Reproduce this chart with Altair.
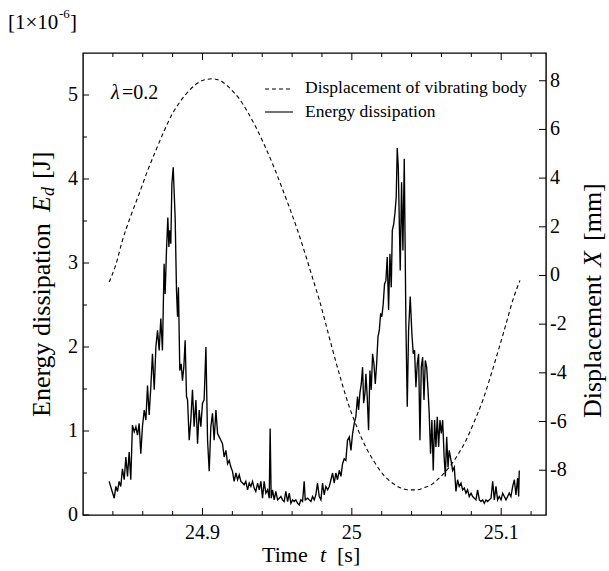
import altair as alt
import pandas as pd

# ---------------- data ----------------
# Energy dissipation E_d  [x1e-6 J] versus time t [s]
ED_T = [24.8375, 24.8409, 24.8420, 24.8431, 24.8442, 24.8453, 24.8464, 24.8476, 24.8487, 24.8498,
        24.8509, 24.8520, 24.8531, 24.8543, 24.8554, 24.8565, 24.8576, 24.8587, 24.8598, 24.8610,
        24.8621, 24.8632, 24.8643, 24.8654, 24.8665, 24.8677, 24.8688, 24.8699, 24.8710, 24.8721,
        24.8732, 24.8743, 24.8750, 24.8759, 24.8768, 24.8775, 24.8781, 24.8788, 24.8795, 24.8804,
        24.8810, 24.8817, 24.8826, 24.8833, 24.8839, 24.8848, 24.8857, 24.8866, 24.8875, 24.8884,
        24.8893, 24.8900, 24.8911, 24.8922, 24.8933, 24.8944, 24.8956, 24.8967, 24.8978, 24.8989,
        24.9000, 24.9011, 24.9023, 24.9034, 24.9045, 24.9056, 24.9067, 24.9078, 24.9090, 24.9101,
        24.9112, 24.9123, 24.9134, 24.9145, 24.9157, 24.9168, 24.9179, 24.9190, 24.9201, 24.9212,
        24.9224, 24.9235, 24.9246, 24.9257, 24.9268, 24.9279, 24.9290, 24.9302, 24.9313, 24.9324,
        24.9335, 24.9346, 24.9357, 24.9369, 24.9380, 24.9391, 24.9402, 24.9413, 24.9424, 24.9436,
        24.9447, 24.9453, 24.9460, 24.9469, 24.9480, 24.9491, 24.9503, 24.9514, 24.9525, 24.9536,
        24.9547, 24.9558, 24.9570, 24.9581, 24.9592, 24.9603, 24.9614, 24.9625, 24.9637, 24.9648,
        24.9659, 24.9670, 24.9681, 24.9688, 24.9704, 24.9715, 24.9726, 24.9737, 24.9748, 24.9759,
        24.9770, 24.9782, 24.9793, 24.9804, 24.9815, 24.9826, 24.9838, 24.9849, 24.9860, 24.9871,
        24.9882, 24.9893, 24.9904, 24.9916, 24.9927, 24.9938, 24.9949, 24.9960, 24.9971, 24.9983,
        24.9994, 25.0005, 25.0016, 25.0027, 25.0038, 25.0045, 25.0054, 25.0063, 25.0072, 25.0079,
        25.0088, 25.0094, 25.0103, 25.0112, 25.0121, 25.0130, 25.0139, 25.0148, 25.0157, 25.0166,
        25.0175, 25.0184, 25.0193, 25.0201, 25.0210, 25.0219, 25.0228, 25.0237, 25.0246, 25.0255,
        25.0264, 25.0271, 25.0280, 25.0289, 25.0297, 25.0304, 25.0311, 25.0318, 25.0324, 25.0333,
        25.0342, 25.0351, 25.0362, 25.0371, 25.0380, 25.0391, 25.0402, 25.0411, 25.0420, 25.0429,
        25.0438, 25.0447, 25.0456, 25.0465, 25.0474, 25.0483, 25.0492, 25.0501, 25.0510, 25.0518,
        25.0527, 25.0536, 25.0545, 25.0554, 25.0563, 25.0572, 25.0581, 25.0590, 25.0599, 25.0608,
        25.0618, 25.0626, 25.0635, 25.0644, 25.0652, 25.0664, 25.0675, 25.0686, 25.0697, 25.0708,
        25.0719, 25.0731, 25.0742, 25.0753, 25.0764, 25.0775, 25.0786, 25.0798, 25.0809, 25.0820,
        25.0831, 25.0842, 25.0854, 25.0865, 25.0876, 25.0887, 25.0898, 25.0909, 25.0920, 25.0932,
        25.0943, 25.0954, 25.0965, 25.0976, 25.0987, 25.0999, 25.1010, 25.1021, 25.1032, 25.1043,
        25.1054, 25.1065, 25.1077, 25.1088, 25.1099, 25.1110, 25.1117, 25.1121]
ED_E = [0.40, 0.20, 0.34, 0.28, 0.40, 0.34, 0.55, 0.42, 0.69, 0.46,
        0.75, 0.42, 1.07, 0.99, 1.05, 0.95, 1.09, 0.73, 1.05, 1.25,
        1.13, 1.54, 1.19, 1.52, 1.92, 1.49, 2.00, 2.20, 1.96, 2.34,
        1.96, 2.99, 2.63, 3.15, 3.54, 3.19, 3.39, 3.23, 3.94, 4.14,
        3.86, 3.54, 2.67, 2.36, 2.71, 1.72, 1.80, 1.60, 1.76, 2.08,
        1.41, 1.37, 0.89, 1.13, 1.49, 1.05, 1.37, 0.85, 1.25, 1.05,
        1.33, 1.37, 2.00, 0.89, 0.52, 1.05, 1.21, 0.89, 1.25, 0.97,
        0.93, 0.89, 0.85, 0.69, 0.77, 0.61, 0.65, 0.57, 0.52, 0.40,
        0.50, 0.42, 0.48, 0.40, 0.38, 0.36, 0.40, 0.30, 0.38, 0.34,
        0.40, 0.32, 0.28, 0.38, 0.30, 0.40, 0.20, 0.40, 0.26, 0.30,
        0.20, 1.03, 0.20, 0.30, 0.18, 0.28, 0.18, 0.20, 0.22, 0.18,
        0.16, 0.28, 0.16, 0.26, 0.14, 0.18, 0.16, 0.18, 0.14, 0.12,
        0.18, 0.16, 0.40, 0.18, 0.20, 0.18, 0.16, 0.22, 0.18, 0.24,
        0.38, 0.22, 0.18, 0.38, 0.24, 0.34, 0.30, 0.34, 0.42, 0.50,
        0.38, 0.50, 0.42, 0.53, 0.46, 0.61, 0.67, 0.65, 0.89, 0.93,
        0.77, 0.97, 1.09, 1.17, 1.41, 1.25, 1.45, 1.56, 1.76, 1.33,
        1.45, 1.68, 1.41, 1.01, 1.72, 1.49, 1.92, 1.80, 1.56, 1.80,
        2.12, 2.20, 2.40, 2.36, 2.51, 2.75, 2.79, 3.07, 2.44, 3.11,
        2.71, 3.39, 3.46, 3.60, 3.78, 4.37, 4.14, 3.46, 2.91, 3.96,
        3.15, 4.24, 2.28, 1.29, 2.20, 2.60, 2.16, 1.92, 1.96, 1.52,
        1.80, 1.92, 0.89, 1.76, 1.88, 1.37, 1.84, 1.76, 1.49, 1.21,
        0.73, 1.13, 0.53, 1.13, 0.81, 1.17, 0.81, 1.13, 0.97, 1.13,
        0.69, 0.46, 0.93, 0.57, 0.77, 0.65, 0.53, 0.57, 0.28, 0.42,
        0.34, 0.38, 0.30, 0.32, 0.26, 0.30, 0.22, 0.26, 0.22, 0.20,
        0.18, 0.30, 0.18, 0.16, 0.18, 0.14, 0.18, 0.16, 0.18, 0.20,
        0.40, 0.18, 0.34, 0.18, 0.22, 0.18, 0.26, 0.22, 0.18, 0.22,
        0.26, 0.22, 0.34, 0.42, 0.24, 0.44, 0.22, 0.53]

# Displacement of vibrating body X [mm] versus time t [s]
DX_T = [24.8375, 24.8420, 24.8464, 24.8520, 24.8576, 24.8632, 24.8688, 24.8744, 24.8799, 24.8855,
        24.8911, 24.9000, 24.9067, 24.9134, 24.9190, 24.9246, 24.9302, 24.9357, 24.9413, 24.9469,
        24.9525, 24.9581, 24.9637, 24.9692, 24.9737, 24.9782, 24.9826, 24.9871, 24.9927, 24.9983,
        25.0039, 25.0094, 25.0150, 25.0206, 25.0262, 25.0317, 25.0373, 25.0429, 25.0485, 25.0541,
        25.0597, 25.0652, 25.0708, 25.0764, 25.0820, 25.0876, 25.0931, 25.0987, 25.1032, 25.1077,
        25.1126]
DX_X = [-0.27, 0.45, 1.44, 2.45, 3.36, 4.30, 5.14, 5.95, 6.65, 7.18,
        7.60, 8.01, 8.08, 7.95, 7.65, 7.26, 6.72, 6.10, 5.38, 4.59,
        3.72, 2.81, 1.85, 0.80, -0.10, -1.00, -2.00, -3.05, -4.28, -5.40,
        -6.30, -7.06, -7.65, -8.15, -8.48, -8.70, -8.80, -8.81, -8.72, -8.56,
        -8.25, -7.88, -7.38, -6.78, -6.00, -5.14, -4.10, -2.95, -2.00, -1.03,
        -0.20]

# ticks and tick labels
X_MAJOR = [24.9, 25.0, 25.1]
X_LABELS = ["24.9", "25", "25.1"]
X_MINOR = [24.84, 24.86, 24.88, 24.92, 24.94, 24.96, 24.98, 25.02, 25.04, 25.06, 25.08, 25.12]
E_MAJOR = [0, 1, 2, 3, 4, 5]
E_LABELS = ["0", "1", "2", "3", "4", "5"]
E_MINOR = [0.5, 1.5, 2.5, 3.5, 4.5]
D_MAJOR = [-8, -6, -4, -2, 0, 2, 4, 6, 8]
D_LABELS = ["-8", "-6", "-4", "-2", "0", "2", "4", "6", "8"]

# ---------------- layout ----------------
W, H = 463, 462
OX, OY = 83, 53          # plot origin inside the 609x571 page
FONT = "Liberation Serif"
ONE = pd.DataFrame({"k": [0]})

xs = alt.Scale(domain=[24.82, 25.13], nice=False, zero=False)
es = alt.Scale(domain=[0, 5.5], nice=False, zero=False)
ds = alt.Scale(domain=[-9.84, 9.14], nice=False, zero=False)

energy = alt.Chart(pd.DataFrame({"t": ED_T, "e": ED_E})).mark_line(
    color="black", strokeWidth=1.35, strokeJoin="miter").encode(
    x=alt.X("t:Q", scale=xs, axis=None),
    y=alt.Y("e:Q", scale=es, axis=None),
)

disp = alt.Chart(pd.DataFrame({"t": DX_T, "x": DX_X})).mark_line(
    color="black", strokeWidth=1.1, strokeDash=[4, 3], interpolate="monotone").encode(
    x=alt.X("t:Q", scale=xs, axis=None),
    y=alt.Y("x:Q", scale=ds, axis=None),
)


def xticks(vals, y0, y1):
    return alt.Chart(pd.DataFrame({"t": vals})).mark_rule(color="black", strokeWidth=1).encode(
        x=alt.X("t:Q", scale=xs, axis=None), y=alt.value(y0), y2=alt.value(y1))


def yticks(vals, scale, x0, x1):
    return alt.Chart(pd.DataFrame({"v": vals})).mark_rule(color="black", strokeWidth=1).encode(
        y=alt.Y("v:Q", scale=scale, axis=None), x=alt.value(x0), x2=alt.value(x1))


def xlabels(vals, labels, y):
    return alt.Chart(pd.DataFrame({"t": vals, "s": labels})).mark_text(
        font=FONT, fontSize=20, color="black", align="center", baseline="top").encode(
        x=alt.X("t:Q", scale=xs, axis=None), y=alt.value(y), text="s:N")


def ylabels(vals, labels, scale, x, align):
    return alt.Chart(pd.DataFrame({"v": vals, "s": labels})).mark_text(
        font=FONT, fontSize=20, color="black", align=align, baseline="middle").encode(
        y=alt.Y("v:Q", scale=scale, axis=None), x=alt.value(x), text="s:N")


def txt(s, x, y, size, italic=False, angle=0, align="left"):
    return alt.Chart(ONE).mark_text(
        text=s, font=FONT, fontSize=size, fontStyle="italic" if italic else "normal",
        angle=angle, align=align, baseline="middle", color="black").encode(
        x=alt.value(x - OX), y=alt.value(y - OY))


def seg(x0, x1, y, dash=None):
    kw = dict(color="black", strokeWidth=1.1)
    if dash:
        kw["strokeDash"] = dash
    return alt.Chart(ONE).mark_rule(**kw).encode(
        x=alt.value(x0 - OX), x2=alt.value(x1 - OX), y=alt.value(y - OY))


x_parts = [
    xticks(X_MAJOR, H, H - 7), xticks(X_MINOR, H, H - 4),
    xticks(X_MAJOR, 0, 7), xticks(X_MINOR, 0, 4),
    xlabels(X_MAJOR, X_LABELS, H + 8),
]

annotations = [
    # multiplier above the left axis
    txt("[1\u00d710", 8, 23, 21), txt("-6", 59, 14, 13), txt("]", 70, 23, 21),
    # parameter label
    txt("\u03bb", 111, 93, 20, italic=True), txt("=0.2", 122, 93, 20),
    # legend
    seg(265, 293, 89, dash=[4, 3]), seg(265, 293, 112),
    txt("Displacement of vibrating body", 305, 88, 17.5),
    txt("Energy dissipation", 305, 112, 17.5),
    # bottom title
    txt("Time", 262, 555, 22), txt("t", 320, 555, 22, italic=True), txt("[s]", 337, 555, 22),
    # left title (rotated)
    txt("Energy dissipation", 42, 417, 26, angle=270),
    txt("E", 42, 212, 26, italic=True, angle=270),
    txt("d", 49, 196, 18, italic=True, angle=270),
    txt("[J]", 42, 179, 26, angle=270),
    # right title (rotated)
    txt("Displacement", 593, 418, 26, angle=270),
    txt("X", 593, 267, 26, italic=True, angle=270),
    txt("[mm]", 593, 241, 26, angle=270),
]

group_e = alt.layer(energy, yticks(E_MAJOR, es, 0, 6), yticks(E_MINOR, es, 0, 4),
                    ylabels(E_MAJOR, E_LABELS, es, -5, "right"),
                    *x_parts, *annotations)
group_d = alt.layer(disp, yticks(D_MAJOR, ds, W, W - 7),
                    ylabels(D_MAJOR, D_LABELS, ds, W + 4, "left"))

chart = alt.layer(group_e, group_d).resolve_scale(y="independent").properties(
    width=W, height=H,
    padding={"left": OX, "top": OY, "right": 609 - OX - W, "bottom": 571 - OY - H},
    autosize=alt.AutoSizeParams(type="none"),
    background="white",
).configure_view(stroke="black", strokeWidth=1.4)

chart.save("out.html", embed_options={"renderer": "svg", "actions": False})
